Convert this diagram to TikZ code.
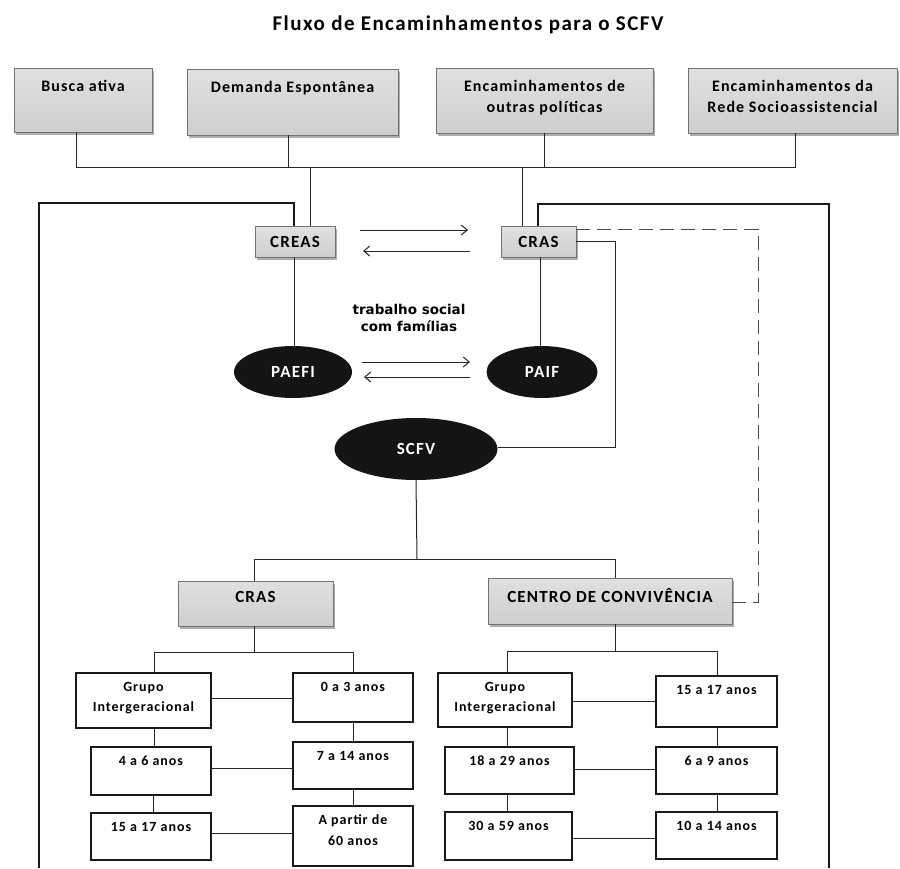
\documentclass[tikz,border=0pt]{standalone}
\usepackage{fontspec}
\setmainfont{Carlito}[LetterSpace=7]
\newfontfamily\heavyfont{DejaVu Sans}
\usetikzlibrary{arrows.meta,shadows,shapes.geometric}

% font sizes used in the chart
\newcommand\fTitle{\bfseries\fontsize{21}{21}\selectfont}
\newcommand\fTop{\bfseries\fontsize{16}{21}\selectfont}
\newcommand\fMid{\bfseries\fontsize{17}{21}\selectfont}
\newcommand\fAge{\bfseries\fontsize{14}{20.5}\selectfont}
\newcommand\fOval{\bfseries\fontsize{17}{17}\selectfont}
\newcommand\fNote{\heavyfont\bfseries\fontsize{13.5}{17}\selectfont}

\begin{document}
\begin{tikzpicture}[x=1pt,y=-1pt,
  graybox/.style={draw=black!55, line width=0.6pt, top color=gray!24, bottom color=gray!38,
    drop shadow={shadow xshift=1.5pt, shadow yshift=-2.5pt, opacity=0.45, fill=black!70},
    inner sep=0pt},
  agebox/.style={draw=black!90, line width=1.5pt, fill=white, inner sep=0pt},
  oval/.style={ellipse, fill=black!92, text=white, font=\fOval, inner sep=0pt},
  tl/.style={anchor=north, yshift=-12pt, inner sep=0pt, align=center, font=\fTop},
  ml/.style={anchor=north, yshift=-10.5pt, inner sep=0pt, align=center, font=\fMid},
  al/.style={anchor=north, yshift=-9.5pt, inner sep=0pt, align=center, font=\fAge},
  link/.style={draw=black!85, line width=1pt},
  frame/.style={draw=black!90, line width=1.3pt},
  dashlink/.style={draw=black!70, line width=0.9pt, dash pattern=on 14pt off 7pt},
  arr/.style={draw=black!85, line width=1pt, -{Straight Barb[length=6pt,width=10pt]}},
]
\useasboundingbox (0,0) rectangle (900,868);

% title
\node[font=\fTitle] (title) at (468,25) {Fluxo de Encaminhamentos para o SCFV};

% entry points
\node[graybox, minimum width=138pt, minimum height=64pt, label={[tl]north:Busca ativa}] (busca) at (83,100) {};
\node[graybox, minimum width=211pt, minimum height=66pt, label={[tl]north:Demanda Espontânea}] (demanda) at (292.5,102) {};
\node[graybox, minimum width=217pt, minimum height=65pt, label={[tl]north:Encaminhamentos de\\outras políticas}] (outras) at (544.5,100.5) {};
\node[graybox, minimum width=209pt, minimum height=65pt, label={[tl]north:Encaminhamentos da\\Rede Socioassistencial}] (rede) at (792.5,100.5) {};

% reference centres
\node[graybox, font=\fMid, minimum width=80pt, minimum height=31pt] (creas) at (295,241.5) {CREAS};
\node[graybox, font=\fMid, minimum width=75pt, minimum height=31pt] (cras) at (538.5,241.5) {CRAS};

% programmes
\node[oval, minimum width=118pt, minimum height=52pt] (paefi) at (293,372) {PAEFI};
\node[oval, minimum width=111pt, minimum height=52pt] (paif) at (542,372) {PAIF};
\node[oval, minimum width=163pt, minimum height=62pt] (scfv) at (416,449) {SCFV};
\node[font=\fNote, align=center, inner sep=0pt] (note) at (409,318) {trabalho social\\com famílias};

% SCFV units
\node[graybox, minimum width=155pt, minimum height=45pt, label={[ml]north:CRAS}] (crasb) at (255.5,603.5) {};
\node[graybox, minimum width=244pt, minimum height=46pt, label={[ml]north:CENTRO DE CONVIVÊNCIA}] (centro) at (610,601) {};

% age groups at CRAS
\node[agebox, minimum width=135pt, minimum height=55pt, label={[al]north:Grupo\\Intergeracional}] (grupoA) at (143.5,700.5) {};
\node[agebox, minimum width=120pt, minimum height=49pt, label={[al]north:0 a 3 anos}] (a03) at (353,697.5) {};
\node[agebox, minimum width=120pt, minimum height=48pt, label={[al]north:4 a 6 anos}] (a46) at (151,771) {};
\node[agebox, minimum width=120pt, minimum height=47pt, label={[al]north:7 a 14 anos}] (a714) at (353,765.5) {};
\node[agebox, minimum width=120pt, minimum height=47pt, label={[al]north:15 a 17 anos}] (a1517) at (151,836.5) {};
\node[agebox, minimum width=120pt, minimum height=60pt, label={[al]north:A partir de\\60 anos}] (a60) at (353,836) {};

% age groups at the Centro de Convivência
\node[agebox, minimum width=134pt, minimum height=54pt, label={[al]north:Grupo\\Intergeracional}] (grupoB) at (505,700) {};
\node[agebox, minimum width=121pt, minimum height=51pt, label={[al]north:15 a 17 anos}] (b1517) at (716.5,701.5) {};
\node[agebox, minimum width=129pt, minimum height=47pt, label={[al]north:18 a 29 anos}] (b1829) at (509.5,770.5) {};
\node[agebox, minimum width=121pt, minimum height=47pt, label={[al]north:6 a 9 anos}] (b69) at (716.5,770.5) {};
\node[agebox, minimum width=127pt, minimum height=48pt, label={[al]north:30 a 59 anos}] (b3059) at (508.5,836) {};
\node[agebox, minimum width=121pt, minimum height=47pt, label={[al]north:10 a 14 anos}] (b1014) at (716.5,835.5) {};

% entry points merge and feed both centres
\draw[link] (busca.south -| 76,0) -- (76,167) -- (795,167) -- (rede.south -| 795,0);
\draw[link] (demanda.south -| 288,0) -- (288,167);
\draw[link] (outras.south -| 544,0) -- (544,167);
\draw[link] (310,167) -- (creas.north -| 310,0);
\draw[link] (522,167) -- (cras.north -| 522,0);

% enclosing frame
\draw[frame] (creas.north -| 294,0) -- (294,203) -- (39,203) -- (39,868);
\draw[frame] (cras.north -| 538,0) -- (538,204) -- (829,204) -- (829,868);

% exchanges between the centres and between programmes
\coordinate (x1a) at (360,230); \coordinate (x1b) at (468,230);
\coordinate (x2a) at (470,251); \coordinate (x2b) at (363,251);
\coordinate (x3a) at (362,362); \coordinate (x3b) at (470,362);
\coordinate (x4a) at (470,377); \coordinate (x4b) at (364,377);
\draw[arr] (x1a) -- (x1b);
\draw[arr] (x2a) -- (x2b);
\draw[arr] (x3a) -- (x3b);
\draw[arr] (x4a) -- (x4b);

\draw[link] (creas.south -| 294,0) -- (paefi.north -| 294,0);
\draw[link] (cras.south -| 540,0) -- (paif.north -| 540,0);
\draw[link] (cras.east |- 0,241) -- (615,241) -- (615,447) -- (scfv.east |- 0,447);
\draw[dashlink] (cras.east |- 0,229) -- (758,229) -- (758,602) -- (centro.east |- 0,602);

% SCFV splits into its two units
\draw[link] (scfv.south) -- (417,559);
\draw[link] (crasb.north -| 254,0) -- (254,559) -- (615,559) -- (centro.north -| 615,0);

% CRAS age groups
\draw[link] (crasb.south -| 254,0) -- (254,652);
\draw[link] (grupoA.north -| 154,0) -- (154,652) -- (353,652) -- (a03.north);
\draw[link] (grupoA.east |- 0,698) -- (a03.west |- 0,698);
\draw[link] (grupoA.south -| 154,0) -- (a46.north -| 154,0);
\draw[link] (a03.south) -- (a714.north);
\draw[link] (a46.east |- 0,768) -- (a714.west |- 0,768);
\draw[link] (a46.south -| 153,0) -- (a1517.north -| 153,0);
\draw[link] (a714.south) -- (a60.north);
\draw[link] (a1517.east |- 0,833) -- (a60.west |- 0,833);

% Centro de Convivência age groups
\draw[link] (centro.south -| 615,0) -- (615,651);
\draw[link] (grupoB.north -| 507,0) -- (507,651) -- (717,651) -- (b1517.north -| 717,0);
\draw[link] (grupoB.east |- 0,701) -- (b1517.west |- 0,701);
\draw[link] (grupoB.south -| 507,0) -- (b1829.north -| 507,0);
\draw[link] (b1517.south -| 717,0) -- (b69.north -| 717,0);
\draw[link] (b1829.east |- 0,769) -- (b69.west |- 0,769);
\draw[link] (b1829.south -| 507,0) -- (b3059.north -| 507,0);
\draw[link] (b69.south -| 717,0) -- (b1014.north -| 717,0);
\draw[link] (b3059.east |- 0,838) -- (b1014.west |- 0,838);
\end{tikzpicture}
\end{document}
